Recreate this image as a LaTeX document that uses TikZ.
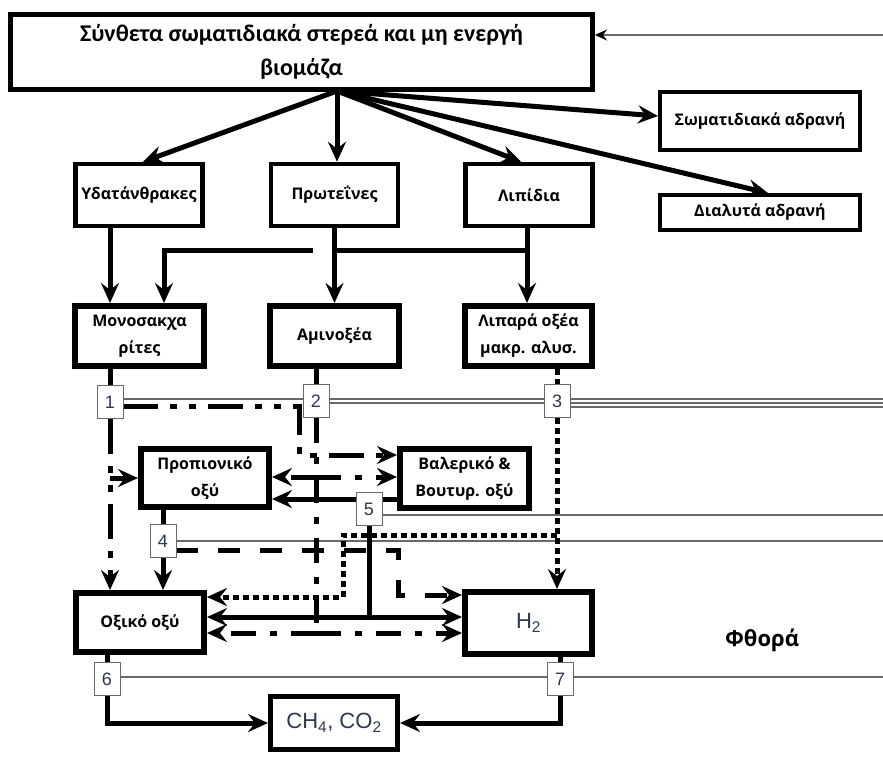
\documentclass[tikz,border=0pt]{standalone}
\usepackage{fontspec}
\setmainfont{Open Sans}
\newfontfamily\calf{Carlito}
\newfontfamily\arialf{Liberation Sans}
\usetikzlibrary{arrows.meta,backgrounds}
\definecolor{numc}{RGB}{45,55,80}
\definecolor{thinc}{RGB}{105,105,105}
\begin{document}
\begin{tikzpicture}[x=1pt,y=-1pt,
 mbox/.style 2 args={draw=black, line width=5pt, fill=white, inner sep=0pt, align=center,
   minimum width=#1, minimum height=#2, font=\bfseries\fontsize{16}{27}\selectfont},
 nbox/.style={draw=thinc, line width=0.8pt, fill=white, minimum width=26pt, minimum height=33pt,
   inner sep=0pt, font=\arialf\fontsize{18}{18}\selectfont, text=numc},
 chem/.style={font=\arialf\mdseries\fontsize{22}{22}\selectfont, text=numc},
 thk/.style={line width=5pt},
 arr/.style={-{Stealth[length=20pt,width=18pt,inset=7pt]}},
 pone/.style={line width=5pt, dash pattern=on 35pt off 12pt on 7pt off 12pt on 7pt off 12pt},
 ptwo/.style={line width=5pt, dash pattern=on 25pt off 14pt on 7pt off 14pt},
 pthree/.style={line width=5pt, dash pattern=on 6pt off 4pt},
 pfour/.style={line width=5pt, dash pattern=on 22pt off 20pt},
 gline/.style={draw=thinc, line width=1.2pt},
]
\useasboundingbox (0,0) rectangle (883,756);
% boxes
\node[mbox={582pt}{75pt}, font=\calf\bfseries\fontsize{24}{34}\selectfont] (top) at (301.5,52) {Σύνθετα σωματιδιακά στερεά και μη ενεργή\\βιομάζα};
\node[mbox={127pt}{62pt}, line width=4.5pt] (ydat) at (139,195) {Υδατάνθρακες};
\node[mbox={127pt}{62pt}, line width=4.5pt] (prot) at (334.5,195) {Πρωτεΐνες};
\node[mbox={127pt}{62pt}, line width=4.5pt] (lip) at (529,195) {Λιπίδια};
\node[mbox={200pt}{58pt}, line width=4pt] (swm) at (760,121) {Σωματιδιακά αδρανή};
\node[mbox={200pt}{35pt}, line width=4pt] (dial) at (760,212.5) {Διαλυτά αδρανή};
\node[mbox={129pt}{60pt}, line width=6pt] (mono) at (139.5,336) {Μονοσακχα\\ρίτες};
\node[mbox={129pt}{60pt}, line width=6pt] (amin) at (334.5,336) {Αμινοξέα};
\node[mbox={127pt}{60pt}, line width=6pt] (lipar) at (528.5,336) {Λιπαρά οξέα\\μακρ. αλυσ.};
\node[mbox={128pt}{58pt}, line width=6pt] (prop) at (205,478) {Προπιονικό\\οξύ};
\node[mbox={129pt}{59pt}, line width=6pt] (val) at (464.5,478.5) {Βαλερικό \&\\Βουτυρ. οξύ};
\node[mbox={128pt}{59pt}, line width=6pt] (oxik) at (140,622.5) {Οξικό οξύ};
\node[mbox={127pt}{62pt}, line width=6pt, chem] (h2) at (528.5,623) {H\textsubscript{2}};
\node[mbox={127pt}{53pt}, line width=5pt, chem] (ch4) at (334,723) {CH\textsubscript{4}, CO\textsubscript{2}};
\node[font=\bfseries\fontsize{22}{22}\selectfont] (fth) at (762,640) {Φθορά};
% numbered process boxes
\node[nbox] (n1) at (110,402) {1};
\node[nbox] (n2) at (316,401) {2};
\node[nbox] (n3) at (557,401) {3};
\node[nbox] (n4) at (163,541) {4};
\node[nbox] (n5) at (369,509) {5};
\node[nbox] (n6) at (107,679) {6};
\node[nbox] (n7) at (560,679) {7};
% free ends
\coordinate (o) at (337,91);
\coordinate (efb) at (883,35);
\coordinate (e1) at (883,399);
\coordinate (e2) at (883,403);
\coordinate (e3) at (883,407);
\coordinate (e5) at (883,515);
\coordinate (e4) at (883,541);
\coordinate (e6) at (883,677);
\coordinate (br) at (164,250);
\coordinate (p1a) at (299,406);
\coordinate (p1b) at (299,455);
\coordinate (p2b) at (316,633);
\coordinate (p2m) at (316,477);
\coordinate (p3a) at (557,535);
\coordinate (p3b) at (343,535);
\coordinate (p3c) at (343,597);
\coordinate (p4a) at (398,550);
\coordinate (p4b) at (398,595);
\coordinate (p5b) at (369,617);
\begin{scope}[on background layer]
\fill[white] (0,0) rectangle (883,756);
% thin decay lines
\draw[gline, -{Stealth[length=12pt,width=11pt,inset=4pt,color=black]}] (efb) -- (top.east |- efb);
\draw[gline] ([yshift=3pt]n1.east) -- (e1);
\draw[gline] ([yshift=-2pt]n2.east) -- (e2);
\draw[gline] ([yshift=-6pt]n3.east) -- (e3);
\draw[gline] ([yshift=-6pt]n5.east) -- (e5);
\draw[gline] (n4.east) -- (e4);
\draw[gline] ([yshift=2pt]n6.east) -- (e6);
% disintegration
\draw[thk,arr] (o) -- ([xshift=4pt]ydat.north);
\draw[thk,arr] (o) -- (o |- prot.north);
\draw[thk,arr] (o) -- ([xshift=-8pt]lip.north);
\draw[thk,arr] (o) -- ([yshift=5pt]swm.west);
\draw[thk,arr] (o) -- ([xshift=8pt]dial.north);
% hydrolysis
\draw[thk,arr] ([xshift=-29pt]ydat.south) -- ([xshift=-29.5pt]mono.north);
\draw[thk,arr] ([xshift=-2pt]lip.south) |- (br) -- (br |- mono.north);
\draw[white, line width=7pt] ([xshift=-22pt]prot.south |- br) -- ([xshift=-3pt]prot.south |- br);
\draw[thk,arr] (prot.south) -- (amin.north);
\draw[thk,arr] ([xshift=-2pt]lip.south) -- ([xshift=-1.5pt]lipar.north);
% to process boxes
\draw[thk] (mono.south -| n1) -- (n1.north);
\draw[thk] (amin.south -| n2) -- (n2.north);
\draw[pthree] (lipar.south -| n3) -- (n3.north);
% process 1
\draw[pone,arr] ([yshift=-4pt]n1.east) -- (p1a) -- (p1b) -- (p1b -| val.west);
\draw[pone,arr] (n1.south) -- (n1.south |- oxik.north);
\draw[thk,arr] (n1 |- prop.west) -- (prop.west);
% process 2
\draw[ptwo] (n2.south) -- (p2b);
\draw[ptwo,arr] (p2b) -- (p2b -| oxik.east);
\draw[ptwo,arr] (p2b) -- (p2b -| h2.west);
\draw[ptwo,arr] (p2m) -- (p2m -| prop.east);
\draw[ptwo,arr] (p2m) -- (p2m -| val.west);
% process 3
\draw[pthree,arr] (n3.south) -- (n3.south |- h2.north);
\draw[pthree,arr] (p3a) -- (p3b) -- (p3c) -- (p3c -| oxik.east);
% process 4
\draw[thk] (prop.south -| n4) -- (n4.north);
\draw[thk,arr] (n4.south) -- (n4.south |- oxik.north);
\draw[pfour,arr] ([yshift=-9pt]n4.east) -- (p4a) -- (p4b) -- (p4b -| h2.west);
% process 5
\draw[thk,arr] (val.west |- 0,499) -- (prop.east |- 0,499);
\draw[thk] (n5.south) -- (p5b);
\draw[thk,arr] (p5b) -- (p5b -| oxik.east);
\draw[thk,arr] (p5b) -- (p5b -| h2.west);
% methanogenesis
\draw[thk] (oxik.south -| n6) -- (n6.north);
\draw[thk] (h2.south -| n7) -- (n7.north);
\draw[thk,arr] (n6.south) |- (ch4.west);
\draw[thk,arr] (n7.south) |- (ch4.east);
\end{scope}
\end{tikzpicture}
\end{document}
